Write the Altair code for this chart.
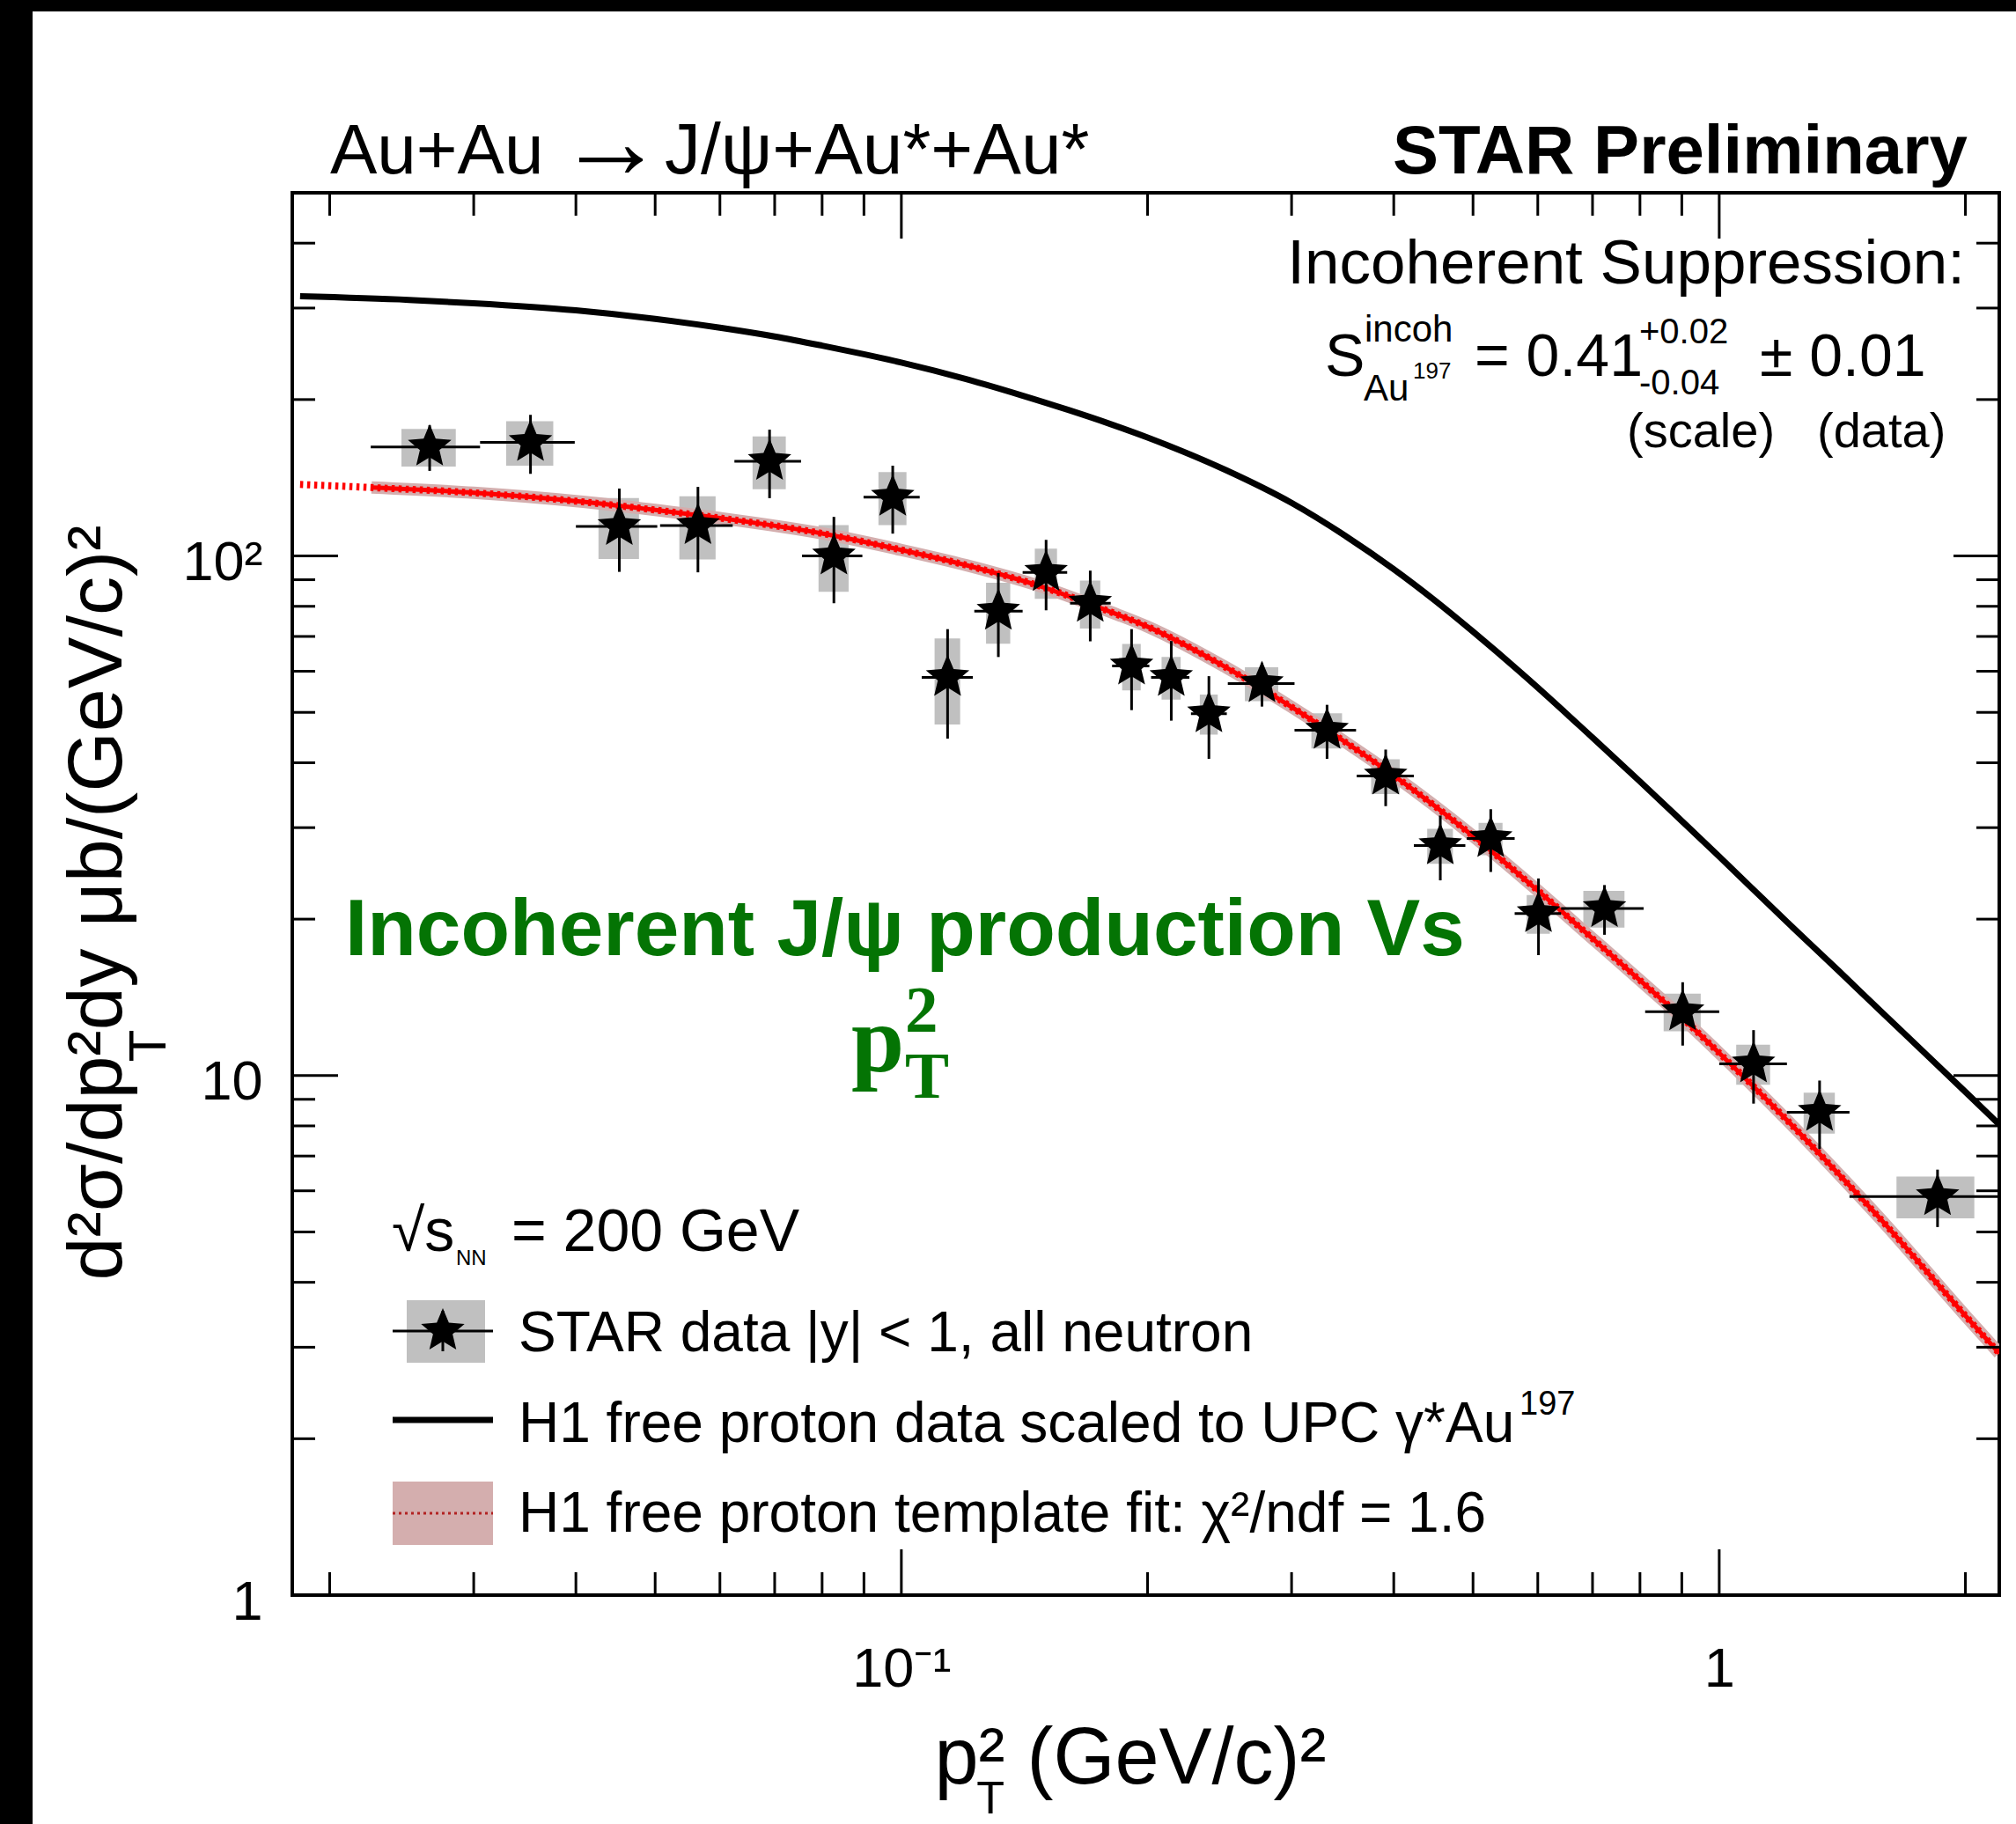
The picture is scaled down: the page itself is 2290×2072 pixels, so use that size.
import math
import pandas as pd
import altair as alt

# ---------------- data ----------------
# STAR incoherent J/psi points: pT^2 bin centre, bin edges, cross section, errors
pt2 = [0.0265, 0.0352, 0.0452, 0.0564, 0.0690, 0.0827, 0.0976, 0.1139, 0.1314, 0.1503,
       0.1702, 0.1912, 0.2138, 0.2377, 0.276, 0.3315, 0.391, 0.456, 0.5256, 0.6012,
       0.724, 0.9022, 1.1015, 1.3265, 1.849]
bin_lo = [0.02245, 0.03054, 0.0400, 0.0507, 0.0625, 0.0756, 0.0899, 0.1059, 0.1228, 0.1407,
          0.1608, 0.181, 0.202, 0.226, 0.2507, 0.3025, 0.3604, 0.4233, 0.4913, 0.5622,
          0.6407, 0.8118, 1.0, 1.21, 1.443]
bin_hi = [0.03054, 0.03987, 0.0503, 0.0622, 0.0754, 0.0896, 0.1053, 0.1223, 0.1407, 0.1595,
          0.1803, 0.201, 0.225, 0.250, 0.3025, 0.3597, 0.4233, 0.4893, 0.5622, 0.6407,
          0.8083, 1.0, 1.21, 1.443, 2.25]
xsec = [162.1, 165.4, 114.0, 114.4, 152.1, 100.0, 129.8, 58.4, 78.3, 93.0,
        81.1, 61.4, 58.4, 49.7, 56.8, 46.2, 37.7, 27.7, 28.6, 20.5,
        20.96, 13.27, 10.53, 8.5, 5.85]
stat_err = [16.3, 21.5, 20.8, 21.4, 22.9, 18.9, 19.4, 13.9, 14.4, 14.4,
            12.6, 10.9, 10.2, 9.0, 5.5, 5.5, 4.7, 3.95, 3.95, 3.45,
            2.3, 1.85, 1.7, 1.28, 0.74]
sys_err = [13.5, 16.2, 15.3, 15.9, 17.7, 14.7, 15.2, 11.0, 10.5, 10.3,
           8.6, 6.3, 5.5, 4.4, 4.25, 3.6, 2.9, 2.15, 2.05, 1.75,
           1.7, 1.1, 0.93, 0.77, 0.54]

# H1 free proton data scaled to UPC gamma*Au
h1_pt2 = [0.0184, 0.025, 0.03, 0.04, 0.05, 0.06, 0.07, 0.08, 0.09, 0.1, 0.12, 0.14,
          0.16, 0.18, 0.2, 0.25, 0.3, 0.35, 0.4, 0.45, 0.5, 0.6, 0.7, 0.8, 0.9, 1.0,
          1.2, 1.4, 1.6, 1.8, 2.0, 2.2]
h1_xsec = [316, 311, 306.5, 297, 286, 275, 264.5, 254, 244.5, 235.6, 219, 204,
           191, 179.5, 169, 146, 126.5, 109, 94.3, 81.9, 71.5, 55.8, 44.7, 36.8, 30.9, 26.4,
           20.0, 15.9, 13.0, 10.9, 9.3, 8.05]

# H1 free proton template fit
fit_pt2 = [0.0184, 0.0225, 0.03, 0.04, 0.05, 0.06, 0.08, 0.1, 0.12, 0.15, 0.175, 0.2, 0.25,
           0.3, 0.35, 0.4, 0.5, 0.6, 0.7, 0.8, 0.9, 1.0, 1.2, 1.4, 1.6, 1.8, 2.0, 2.2]
fit_xsec = [137.3, 135.4, 132.3, 127.5, 122.6, 118.3, 110.5, 102.7, 96.0, 86.8, 79.4, 73.1, 60.9,
            51.2, 43.7, 37.8, 28.9, 22.7, 18.35, 15.25, 12.93, 11.05, 8.32, 6.46, 5.15, 4.17,
            3.45, 2.92]

# axis tick positions
x_minor = [0.02, 0.03, 0.04, 0.05, 0.06, 0.07, 0.08, 0.09,
           0.2, 0.3, 0.4, 0.5, 0.6, 0.7, 0.8, 0.9, 2.0]
x_major = [0.1, 1.0]
y_minor = [2, 3, 4, 5, 6, 7, 8, 9, 20, 30, 40, 50, 60, 70, 80, 90, 200, 300, 400]
y_major = [10, 100]

# ---------------- layout / style ----------------
W, H = 1939, 1593
SANS = "Liberation Sans"
SERIF = "Liberation Serif"
GREEN = "#047404"
BOX_GREY = "#c0c0c0"
BAND = "#d4aeae"

xs = alt.Scale(type="log", domain=[0.018, 2.2], nice=False, zero=False)
ys = alt.Scale(type="log", domain=[1, 500], nice=False, zero=False)

x_axis = alt.Axis(
    values=[0.1, 1.0], labelExpr="datum.value < 0.5 ? '10⁻¹' : '1'",
    domain=False, ticks=False, tickSize=0, grid=False,
    labelFont=SANS, labelFontSize=63, labelColor="black", labelPadding=103,
    labelBaseline="alphabetic", labelFlush=False, labelOverlap=False, labelBound=False,
    title="p² (GeV/c)²", titleFont=SANS, titleFontSize=90, titleFontWeight="normal",
    titleColor="black", titleX=729, titleY=213, titleAlign="left",
    titleBaseline="alphabetic", titleAngle=0,
)
y_axis = alt.Axis(
    values=[1, 10, 100],
    labelExpr="datum.value > 50 ? '10²' : (datum.value > 5 ? '10' : '1')",
    domain=False, ticks=False, tickSize=0, grid=False,
    labelFont=SANS, labelFontSize=63, labelColor="black", labelPadding=34,
    labelAlign="right", labelBaseline="alphabetic", labelOffset=27,
    labelFlush=False, labelOverlap=False, labelBound=False,
    title="d²σ/dp²dy μb/(GeV/c)²", titleFont=SANS, titleFontSize=88,
    titleFontWeight="normal", titleColor="black", titleAngle=270,
    titleX=-195, titleY=806, titleAlign="center", titleBaseline="alphabetic",
)


def X(field):
    return alt.X(field, type="quantitative", scale=xs, axis=x_axis)


def Y(field):
    return alt.Y(field, type="quantitative", scale=ys, axis=y_axis)


# five-pointed star marker path in the unit box
star_pts = []
for k in range(10):
    r = 1.0 if k % 2 == 0 else 0.45
    a = -math.pi / 2 + k * math.pi / 5
    star_pts.append(f"{r * math.cos(a):.4f},{r * math.sin(a):.4f}")
STAR = "M" + " L".join(star_pts) + " Z"
STAR_SIZE = 2700

pts = pd.DataFrame({
    "pt2": pt2, "lo": bin_lo, "hi": bin_hi, "y": xsec,
    "stat": stat_err, "sys": sys_err,
})
pts["bx0"] = pts["pt2"] - (pts["hi"] - pts["lo"]) / 4
pts["bx1"] = pts["pt2"] + (pts["hi"] - pts["lo"]) / 4
pts["sy0"] = pts["y"] - pts["sys"]
pts["sy1"] = pts["y"] + pts["sys"]
pts["ey0"] = pts["y"] - pts["stat"]
pts["ey1"] = pts["y"] + pts["stat"]

h1 = pd.DataFrame({"pt2": h1_pt2, "y": h1_xsec})
fit = pd.DataFrame({"pt2": fit_pt2, "y": fit_xsec})
band = fit[fit["pt2"] >= bin_lo[0] - 1e-9]

one = pd.DataFrame({"k": [0]})


def txt(s, x, y, size, align="left", weight="normal", font=SANS, color="black", angle=0):
    return alt.Chart(pd.DataFrame({"s": [s]})).mark_text(
        align=align, baseline="alphabetic", fontSize=size, fontWeight=weight,
        font=font, color=color, angle=angle,
    ).encode(x=alt.value(x), y=alt.value(y), text="s:N")


def xticks(vals, length):
    base = alt.Chart(pd.DataFrame({"v": vals})).mark_rule(color="black", strokeWidth=3)
    return [
        base.encode(x=X("v"), y=alt.value(H), y2=alt.value(H - length)),
        base.encode(x=X("v"), y=alt.value(0), y2=alt.value(length)),
    ]


def yticks(vals, length):
    base = alt.Chart(pd.DataFrame({"v": vals})).mark_rule(color="black", strokeWidth=3)
    return [
        base.encode(y=Y("v"), x=alt.value(0), x2=alt.value(length)),
        base.encode(y=Y("v"), x=alt.value(W - length), x2=alt.value(W)),
    ]


def line(df, color, width, dash=None):
    kw = dict(color=color, strokeWidth=width, clip=True, interpolate="monotone")
    if dash:
        kw["strokeDash"] = dash
    return alt.Chart(df).mark_line(**kw).encode(x=X("pt2"), y=Y("y"))


layers = []

# dark page border strips
layers.append(alt.Chart(one).mark_rect(color="black").encode(
    x=alt.value(-332), x2=alt.value(-295), y=alt.value(-219), y2=alt.value(H + 260)))
layers.append(alt.Chart(one).mark_rect(color="black").encode(
    x=alt.value(-332), x2=alt.value(W + 19), y=alt.value(-219), y2=alt.value(-206)))

# systematic boxes
layers.append(alt.Chart(pts).mark_rect(color=BOX_GREY).encode(
    x=X("bx0"), x2="bx1:Q", y=Y("sy0"), y2="sy1:Q"))

# template fit: band, solid core, dotted line
layers.append(line(band, BAND, 14))
layers.append(line(band, "#ff0000", 5))
layers.append(line(fit, "#ff0000", 8, [3.5, 4.5]))

# H1 scaled curve
layers.append(line(h1, "black", 7))

# error bars
layers.append(alt.Chart(pts).mark_rule(color="black", strokeWidth=3, clip=True).encode(
    x=X("lo"), x2="hi:Q", y=Y("y")))
layers.append(alt.Chart(pts).mark_rule(color="black", strokeWidth=3, clip=True).encode(
    x=X("pt2"), y=Y("ey0"), y2="ey1:Q"))

# data markers
layers.append(alt.Chart(pts).mark_point(shape=STAR, filled=True, color="black",
                                        size=STAR_SIZE, opacity=1).encode(
    x=X("pt2"), y=Y("y")))

# inward frame ticks
layers += xticks(x_minor, 26) + xticks(x_major, 52)
layers += yticks(y_minor, 26) + yticks(y_major, 52)

# legend symbols
layers.append(alt.Chart(one).mark_rect(color=BOX_GREY).encode(
    x=alt.value(130), x2=alt.value(219), y=alt.value(1258), y2=alt.value(1329)))
layers.append(alt.Chart(one).mark_rule(color="black", strokeWidth=3).encode(
    x=alt.value(114), x2=alt.value(228), y=alt.value(1293)))
layers.append(alt.Chart(one).mark_rule(color="black", strokeWidth=3).encode(
    x=alt.value(171), y=alt.value(1270), y2=alt.value(1316)))
layers.append(alt.Chart(one).mark_point(shape=STAR, filled=True, color="black",
                                        size=STAR_SIZE, opacity=1).encode(
    x=alt.value(171), y=alt.value(1293)))
layers.append(alt.Chart(one).mark_rule(color="black", strokeWidth=7).encode(
    x=alt.value(114), x2=alt.value(228), y=alt.value(1394)))
layers.append(alt.Chart(one).mark_rect(color=BAND).encode(
    x=alt.value(114), x2=alt.value(228), y=alt.value(1464), y2=alt.value(1536)))
layers.append(alt.Chart(one).mark_rule(color="#b22222", strokeWidth=3, strokeDash=[3, 4]).encode(
    x=alt.value(114), x2=alt.value(228), y=alt.value(1500)))

# headline texts
layers.append(txt("Au+Au", 43, -22, 80))
layers.append(txt("→", 362, -17, 122, align="center"))
layers.append(txt("J/ψ+Au*+Au*", 423, -22, 82))
layers.append(txt("STAR Preliminary", 1903, -22, 78, align="right", weight="bold"))

# suppression factor
layers.append(txt("Incoherent Suppression:", 1900, 103, 71, align="right"))
layers.append(txt("S", 1173, 208, 68))
layers.append(txt("incoh", 1218, 169, 42))
layers.append(txt("Au", 1217, 236, 42))
layers.append(txt("197", 1273, 211, 26))
layers.append(txt("= 0.41", 1343, 208, 68))
layers.append(txt("+0.02", 1530, 171, 40))
layers.append(txt("-0.04", 1530, 229, 40))
layers.append(txt("± 0.01", 1667, 208, 68))
layers.append(txt("(scale)", 1516, 289, 56))
layers.append(txt("(data)", 1732, 289, 56))

# legend texts
layers.append(txt("√s", 113, 1202, 68))
layers.append(txt("NN", 186, 1218, 24))
layers.append(txt("= 200 GeV", 249, 1202, 68))
layers.append(txt("STAR data |y| < 1, all neutron", 257, 1316, 64))
layers.append(txt("H1 free proton data scaled to UPC γ*Au", 257, 1419, 64))
layers.append(txt("197", 1394, 1388, 38))
layers.append(txt("H1 free proton template fit: χ²/ndf = 1.6", 257, 1521, 64))

# green annotation
layers.append(txt("Incoherent J/ψ production Vs", 60, 866, 91, weight="bold", color=GREEN))
layers.append(txt("p", 635, 998, 108, weight="bold", font=SERIF, color=GREEN))
layers.append(txt("2", 696, 953, 75, weight="bold", font=SERIF, color=GREEN))
layers.append(txt("T", 696, 1028, 75, weight="bold", font=SERIF, color=GREEN))

# subscripts of the axis titles
layers.append(txt("T", 793, 1841, 52, align="center"))
layers.append(txt("T", -144, 969, 60, align="center", angle=270))

chart = alt.layer(*layers).properties(
    width=W, height=H,
    background="white",
    autosize=alt.AutoSizeParams(type="none"),
    padding={"left": 332, "top": 219, "right": 19, "bottom": 260},
).configure_view(stroke="black", strokeWidth=4)

chart.save("out.html", embed_options={"renderer": "svg", "actions": False})
